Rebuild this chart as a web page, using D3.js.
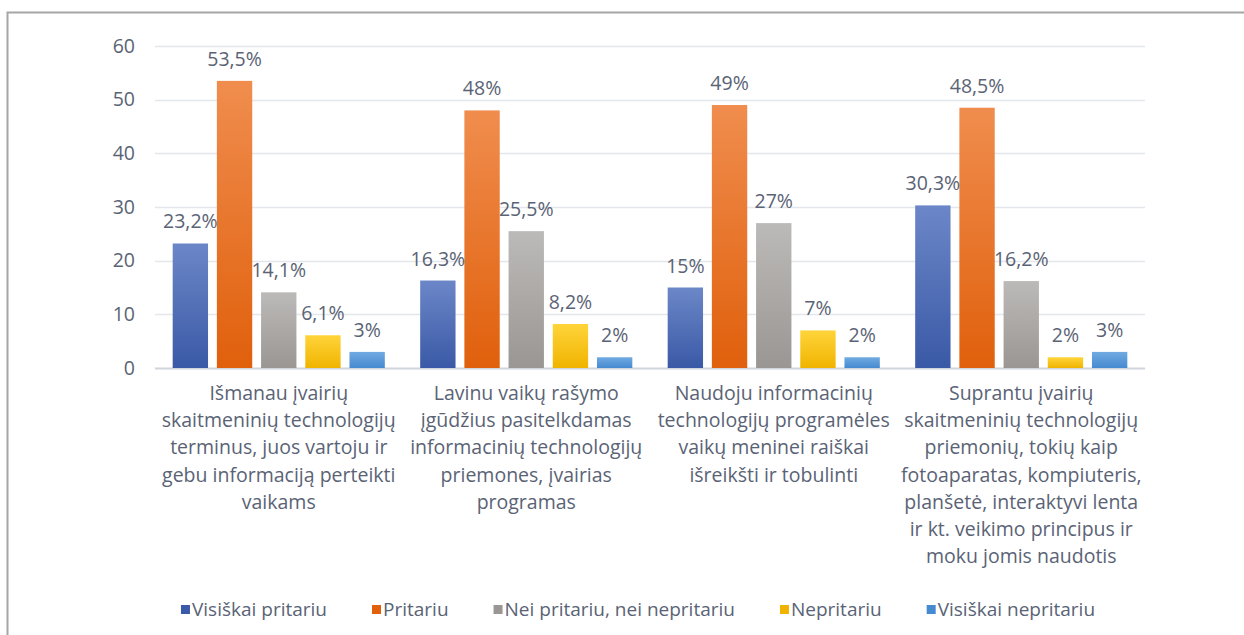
<!DOCTYPE html>
<html>
<head>
<meta charset="utf-8">
<script src="https://cdn.jsdelivr.net/npm/d3@7"></script>
<style>
  body { margin: 0; background: #fff; }
  text { font-family: "Open Sans", "Noto Sans", sans-serif; fill: #5a6375; }
</style>
</head>
<body>
<svg id="chart"></svg>
<script>
// chart size
var width = 1244,
    height = 635;

// categories (label lines as wrapped in the original)
var categories = [
  ["Išmanau įvairių", "skaitmeninių technologijų", "terminus, juos vartoju ir", "gebu informaciją perteikti", "vaikams"],
  ["Lavinu vaikų rašymo", "įgūdžius pasitelkdamas", "informacinių technologijų", "priemones, įvairias", "programas"],
  ["Naudoju informacinių", "technologijų programėles", "vaikų meninei raiškai", "išreikšti ir tobulinti"],
  ["Suprantu įvairių", "skaitmeninių technologijų", "priemonių, tokių kaip", "fotoaparatas, kompiuteris,", "planšetė, interaktyvi lenta", "ir kt. veikimo principus ir", "moku jomis naudotis"]
];

var seriesNames = ["Visiškai pritariu", "Pritariu", "Nei pritariu, nei nepritariu", "Nepritariu", "Visiškai nepritariu"];

// values per series, one per category
var visiskaiPritariu   = [23.2, 16.3, 15, 30.3];
var pritariu           = [53.5, 48, 49, 48.5];
var neiPritariu        = [14.1, 25.5, 27, 16.2];
var nepritariu         = [6.1, 8.2, 7, 2];
var visiskaiNepritariu = [3, 2, 2, 3];

var yTicks = [0, 10, 20, 30, 40, 50, 60];

var seriesValues = [visiskaiPritariu, pritariu, neiPritariu, nepritariu, visiskaiNepritariu];

// gradient colors (top, bottom) per series
var colors = [
  ["#6c87c8", "#3a59a6"],
  ["#f08d4e", "#e0600c"],
  ["#bcbab8", "#9a9694"],
  ["#ffd43a", "#f0b400"],
  ["#70aae2", "#468ad0"]
];

var margin = {top: 46, left: 155, right: 100},
    plotBottom = 368;

var svg = d3.select("#chart")
    .attr("width", width)
    .attr("height", height);

// frame
svg.append("path")
    .attr("d", "M7.5," + height + "V12.5H" + width)
    .attr("fill", "none")
    .attr("stroke", "#a6a6a6")
    .attr("stroke-width", 2);

var defs = svg.append("defs");
colors.forEach(function(c, i) {
  var g = defs.append("linearGradient")
      .attr("id", "grad" + i)
      .attr("x1", 0).attr("y1", 0).attr("x2", 0).attr("y2", 1);
  g.append("stop").attr("offset", "0%").attr("stop-color", c[0]);
  g.append("stop").attr("offset", "100%").attr("stop-color", c[1]);
});

var x0 = d3.scaleBand()
    .domain(d3.range(categories.length))
    .range([margin.left, width - margin.right + 1]);

var x1 = d3.scaleBand()
    .domain(d3.range(seriesNames.length))
    .range([0, x0.bandwidth()])
    .paddingInner(0.2)
    .paddingOuter(0.4);

var y = d3.scaleLinear()
    .domain([0, 60])
    .range([plotBottom, margin.top]);

// gridlines
svg.append("g")
  .selectAll("line")
    .data(yTicks)
  .enter().append("line")
    .attr("x1", margin.left)
    .attr("x2", width - margin.right + 1)
    .attr("y1", function(d) { return Math.round(y(d)) + 0.5; })
    .attr("y2", function(d) { return Math.round(y(d)) + 0.5; })
    .attr("stroke", function(d) { return d === 0 ? "#d0d4db" : "#e3e6eb"; })
    .attr("stroke-width", d => d === 0 ? 2 : 1.5);

// y axis labels
svg.append("g")
  .selectAll("text")
    .data(yTicks)
  .enter().append("text")
    .attr("x", 135)
    .attr("y", function(d) { return y(d); })
    .attr("dy", "0.35em")
    .attr("text-anchor", "end")
    .style("font-size", "19.5px")
    .text(function(d) { return d; });

// bars
var groups = svg.append("g")
  .selectAll("g")
    .data(categories)
  .enter().append("g")
    .attr("transform", function(d, i) { return "translate(" + x0(i) + ",0)"; });

groups.each(function(cat, ci) {
  var g = d3.select(this);
  var data = seriesValues.map(function(s, si) { return {s: si, v: s[ci]}; });

  g.selectAll("rect")
      .data(data)
    .enter().append("rect")
      .attr("x", function(d) { return x1(d.s); })
      .attr("y", function(d) { return y(d.v); })
      .attr("width", x1.bandwidth())
      .attr("height", function(d) { return plotBottom - y(d.v); })
      .attr("fill", function(d) { return "url(#grad" + d.s + ")"; });

  g.selectAll("text.val")
      .data(data)
    .enter().append("text")
      .attr("class", "val")
      .attr("x", function(d) { return x1(d.s) + x1.bandwidth() / 2; })
      .attr("y", function(d) { return y(d.v) - 15; })
      .attr("text-anchor", "middle")
      .style("font-size", "19.5px")
      .text(function(d) { return String(d.v).replace(".", ",") + "%"; });

  // category label
  var lbl = g.append("text")
      .attr("text-anchor", "middle")
      .style("font-size", "19.5px");
  lbl.selectAll("tspan")
      .data(cat)
    .enter().append("tspan")
      .attr("x", x0.bandwidth() / 2)
      .attr("y", function(d, i) { return 400 + i * 27.2; })
      .text(function(d) { return d; });
});

// legend
var legend = svg.append("g");
var gap = 45, sw = 9, tx = 11;
var items = legend.selectAll("g")
    .data(seriesNames)
  .enter().append("g");
items.append("rect")
    .attr("width", sw).attr("height", sw)
    .attr("y", 605)
    .attr("fill", function(d, i) { return colors[i][1]; });
items.append("text")
    .attr("x", tx)
    .attr("y", 609)
    .attr("dy", "0.35em")
    .style("font-size", "19px")
    .text(function(d) { return d; });

var widths = [];
items.each(function() { widths.push(d3.select(this).select("text").node().getComputedTextLength() + tx); });
var total = d3.sum(widths) + gap * (widths.length - 1);
var cx = 638 - total / 2;
items.attr("transform", function(d, i) {
  var off = cx + d3.sum(widths.slice(0, i)) + gap * i;
  return "translate(" + off + ",0)";
});
</script>
</body>
</html>
